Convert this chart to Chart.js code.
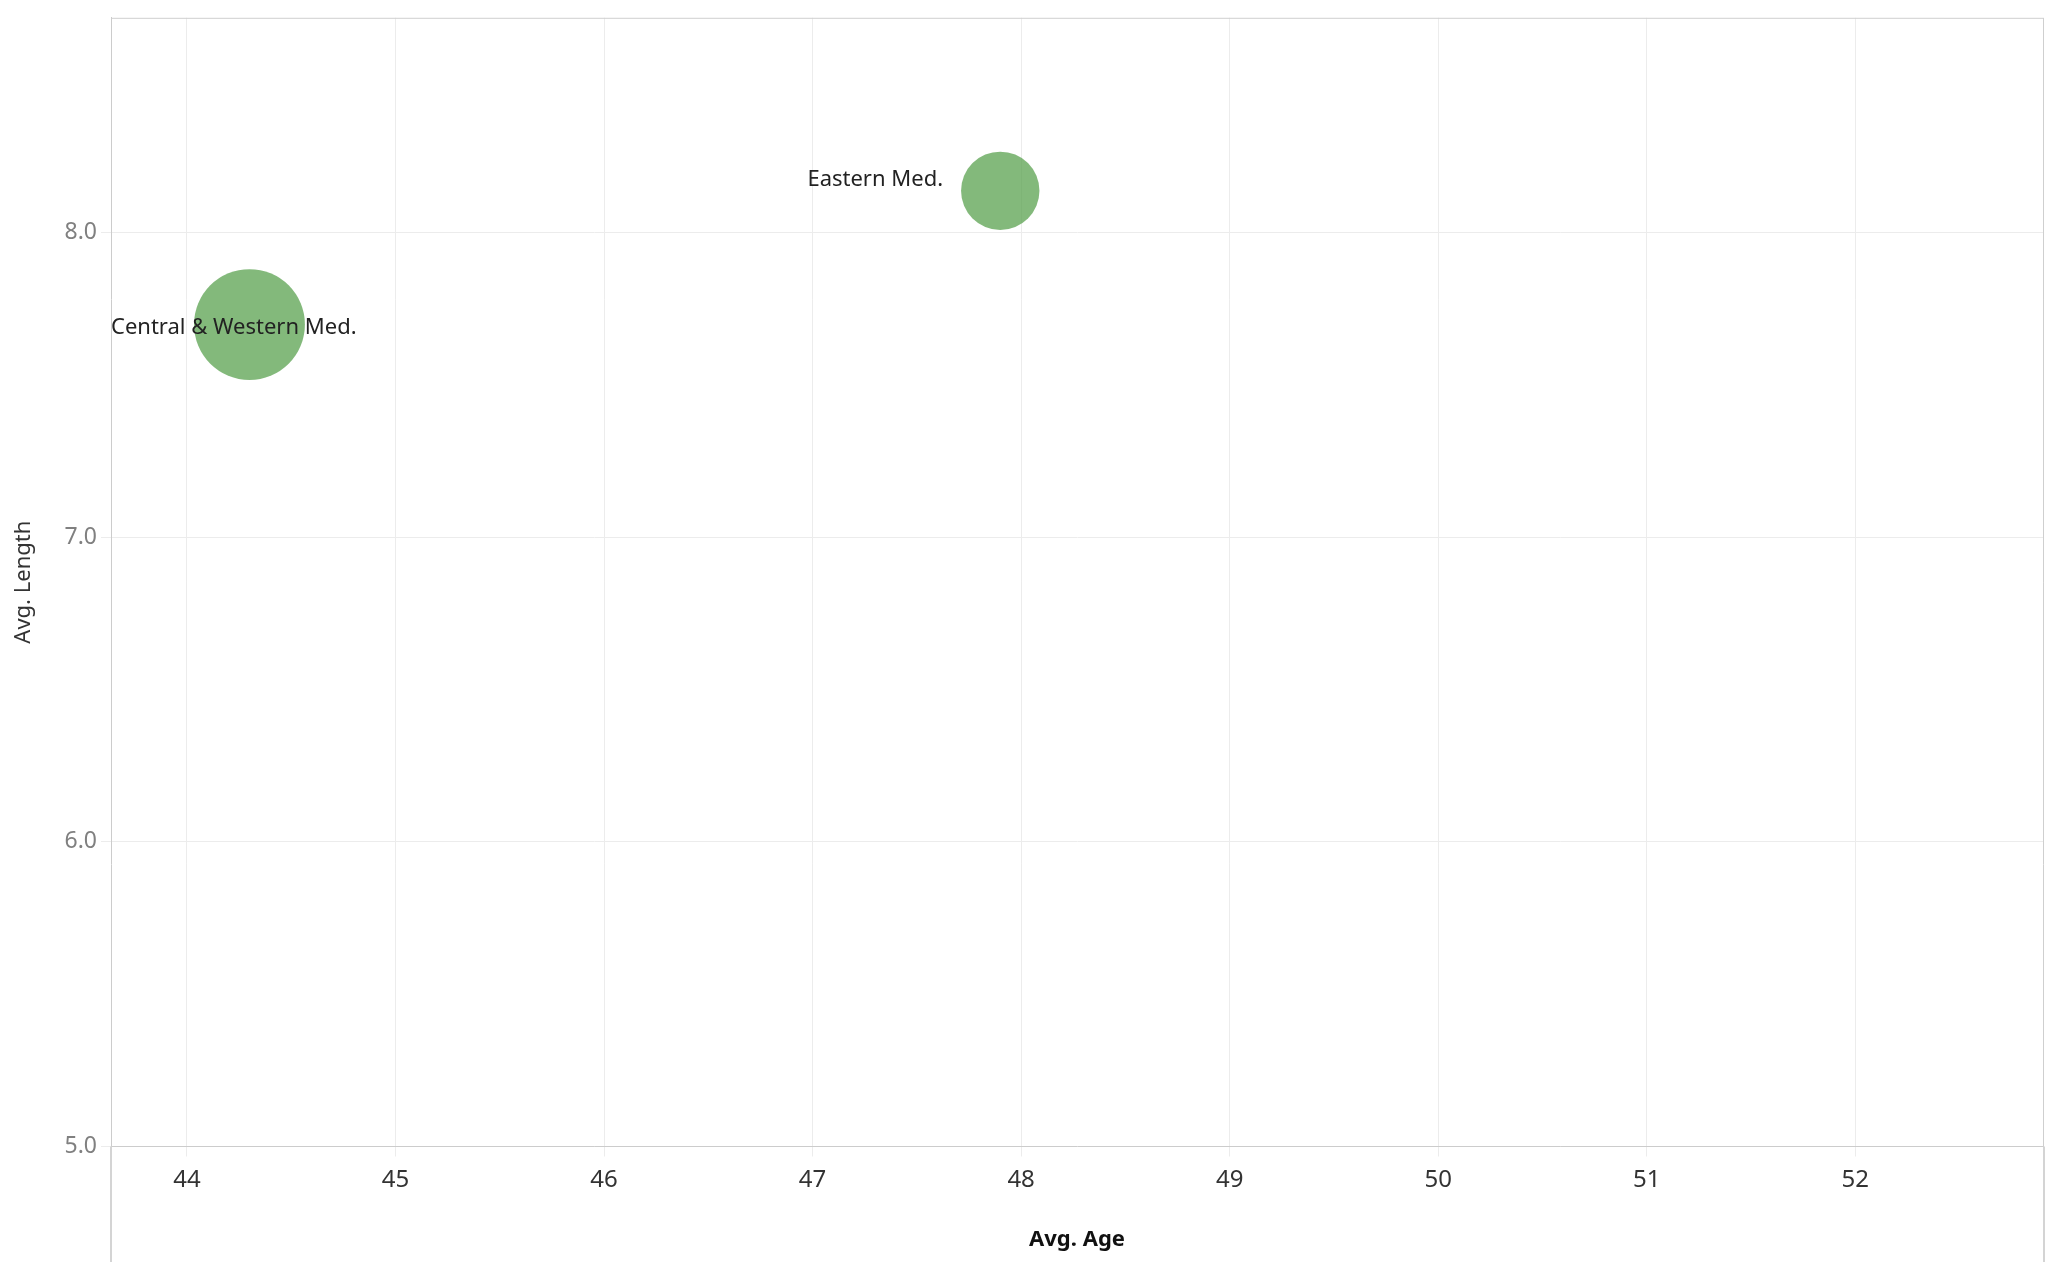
<!DOCTYPE html>
<html>
<head>
<meta charset="utf-8">
<script src="https://cdn.jsdelivr.net/npm/chart.js@4/dist/chart.umd.min.js"></script>
<style>
  html, body { margin: 0; padding: 0; background: #ffffff; }
  #wrap { width: 2054px; height: 1262px; position: relative; }
  canvas { display: block; }
</style>
</head>
<body>
<div id="wrap"><canvas id="c" width="2054" height="1262"></canvas></div>
<script>
// ---- data ----
const regions = ["Central & Western Med.", "Eastern Med."];
const avgAge = [44.30, 47.90];
const avgLength = [7.698, 8.137];
const sizeMeasure = [2.0, 1.0];          // relative size (area-proportional)
const xTicks = [44, 45, 46, 47, 48, 49, 50, 51, 52];
const yTicks = [5.0, 6.0, 7.0, 8.0];
const xTitle = "Avg. Age";
const yTitle = "Avg. Length";

const FONT = "'Noto Sans', 'Open Sans', sans-serif";
const RADIUS_UNIT = 39.2;

// keep the plot frame where the axes put it (no extra padding for bubble radius)
const BubbleCtrl = Chart.registry.getController('bubble');
BubbleCtrl.prototype.getMaxOverflow = function () { return 0; };

const points = regions.map((name, i) => ({
  x: avgAge[i],
  y: avgLength[i],
  r: Math.sqrt(sizeMeasure[i]) * RADIUS_UNIT,
  label: name
}));

const framePlugin = {
  id: 'frame',
  beforeDatasetsDraw(chart) {
    const { ctx, chartArea } = chart;
    const H = chart.height;
    ctx.save();
    ctx.strokeStyle = '#cfcfcf';
    ctx.lineWidth = 1;
    ctx.beginPath();
    ctx.moveTo(chartArea.left, chartArea.top + 0.5);
    ctx.lineTo(chartArea.right, chartArea.top + 0.5);
    ctx.moveTo(chartArea.right + 0.5, chartArea.top);
    ctx.lineTo(chartArea.right + 0.5, chartArea.bottom);
    ctx.stroke();
    ctx.lineWidth = 2;
    ctx.strokeStyle = '#d4d4d4';
    ctx.beginPath();
    ctx.moveTo(chartArea.left, chartArea.bottom);
    ctx.lineTo(chartArea.left, H);
    ctx.moveTo(chartArea.right + 1, chartArea.bottom);
    ctx.lineTo(chartArea.right + 1, H);
    ctx.stroke();
    ctx.restore();
  }
};

const labelPlugin = {
  id: 'bubbleLabels',
  afterDatasetsDraw(chart) {
    const { ctx, chartArea } = chart;
    const meta = chart.getDatasetMeta(0);
    ctx.save();
    ctx.font = "22px " + FONT;
    ctx.fillStyle = '#222222';
    ctx.textBaseline = 'middle';
    ctx.textAlign = 'left';
    meta.data.forEach((el, i) => {
      const p = points[i];
      const w = ctx.measureText(p.label).width;
      let left = el.x - p.r - 18 - w;
      let dy = -11;
      if (left < chartArea.left) { left = chartArea.left; dy = 3; }
      ctx.fillText(p.label, left, el.y + dy);
    });
    ctx.restore();
  }
};

new Chart(document.getElementById('c'), {
  type: 'bubble',
  data: {
    datasets: [{
      label: 'Regions',
      data: points,
      backgroundColor: 'rgba(89,161,79,0.75)',
      borderWidth: 0,
      hoverBorderWidth: 0,
      clip: false
    }]
  },
  options: {
    responsive: false,
    animation: false,
    devicePixelRatio: 1,
    layout: { padding: { top: 13, right: 11, left: 0, bottom: 0 } },
    plugins: {
      legend: { display: false },
      tooltip: { enabled: false }
    },
    scales: {
      x: {
        type: 'linear',
        position: 'bottom',
        min: 43.636,
        max: 52.9,
        afterBuildTicks: (s) => { s.ticks = xTicks.map(v => ({ value: v })); },
        afterFit: (s) => { s.height = 115.5; },
        grid: { color: '#ececec', tickColor: '#ececec', tickLength: 10, lineWidth: 1 },
        border: { color: '#cccccc', width: 1 },
        ticks: {
          font: { family: FONT, size: 24 },
          color: '#333333',
          padding: 9,
          maxRotation: 0,
          autoSkip: false,
          callback: (v) => String(v)
        },
        title: {
          display: true,
          text: xTitle,
          font: { family: FONT, size: 22, weight: 'bold' },
          color: '#111111',
          padding: { top: 0, bottom: 9 }
        }
      },
      y: {
        type: 'linear',
        position: 'left',
        min: 5.0,
        max: 8.705,
        afterBuildTicks: (s) => { s.ticks = yTicks.map(v => ({ value: v })); },
        afterFit: (s) => { s.width = 111; },
        grid: { color: '#ececec', tickColor: '#ececec', tickLength: 10, lineWidth: 1 },
        border: { color: '#cccccc', width: 1 },
        ticks: {
          font: { family: FONT, size: 23 },
          color: '#808080',
          padding: 4,
          autoSkip: false,
          callback: (v) => Number(v).toFixed(1)
        },
        title: {
          display: true,
          text: yTitle,
          font: { family: FONT, size: 22 },
          color: '#333333',
          padding: { top: 11, bottom: 0 }
        }
      }
    }
  },
  plugins: [framePlugin, labelPlugin]
});
</script>
</body>
</html>
